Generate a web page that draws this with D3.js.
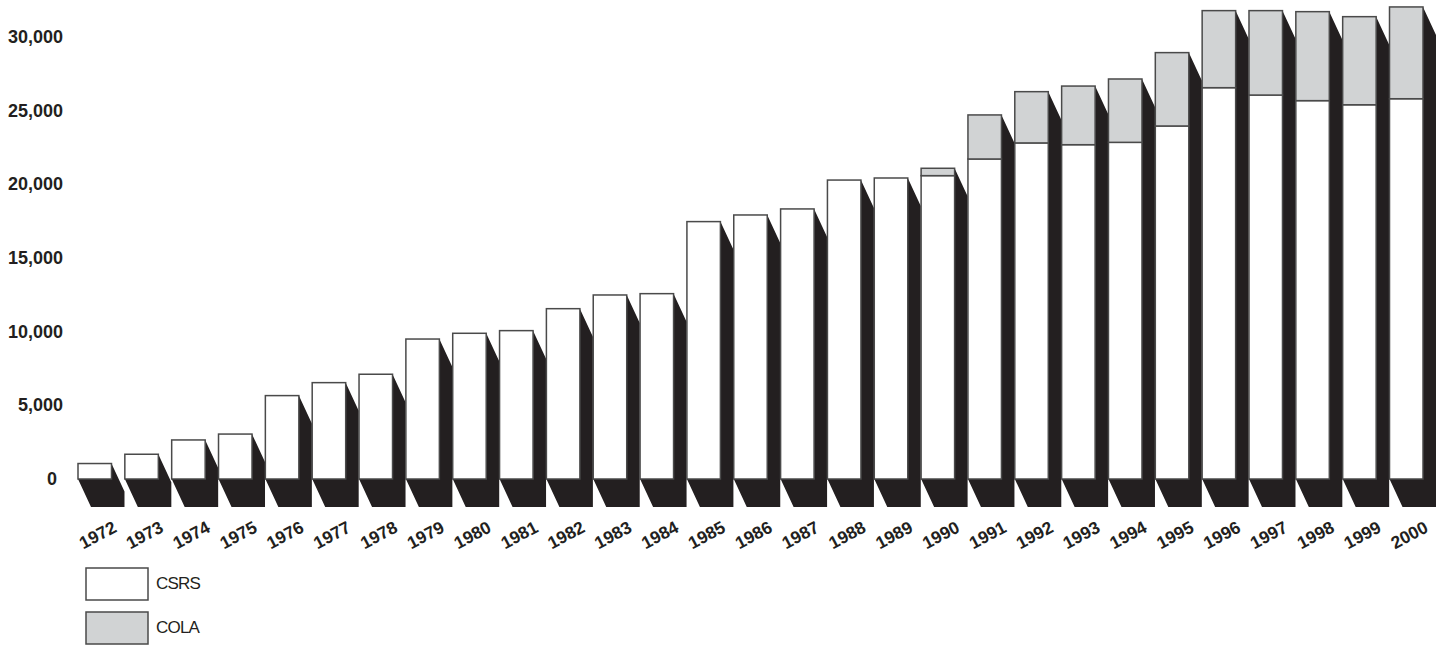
<!DOCTYPE html>
<html>
<head>
<meta charset="utf-8">
<script src="https://cdn.jsdelivr.net/npm/d3@7"></script>
<style>
  html, body { margin: 0; padding: 0; background: #fff; }
  svg { display: block; }
</style>
</head>
<body>
<svg id="chart" width="1441" height="645"></svg>
<script>
const years = ["1972","1973","1974","1975","1976","1977","1978","1979","1980","1981","1982","1983","1984","1985","1986","1987","1988","1989","1990","1991","1992","1993","1994","1995","1996","1997","1998","1999","2000"];
const csrs = [1050,1680,2650,3050,5660,6540,7110,9500,9890,10070,11560,12490,12580,17470,17920,18330,20290,20430,20590,21720,22810,22690,22850,23960,26560,26060,25680,25400,25810];
const cola = [0,0,0,0,0,0,0,0,0,0,0,0,0,0,0,0,0,0,500,2990,3480,3980,4300,4980,5230,5730,6040,5980,6230];
const yTicks = [0,5000,10000,15000,20000,25000,30000];
const seriesNames = ["CSRS","COLA"];
const seriesColors = ["#ffffff","#d1d3d4"];

const svg = d3.select("#chart");
const x = d3.scaleBand().domain(years).range([78, 1423]).paddingInner(0.285).paddingOuter(0);
const y = d3.scaleLinear().domain([0, 30000]).range([479, 37]);
const dx = 13, dy = 28;
const dark = "#231f20";
const strokeC = "#4a4a4a";

// y axis labels
svg.append("g").selectAll("text").data(yTicks).join("text")
  .attr("x", d => d === 0 ? 57 : 63).attr("y", d => y(d))
  .attr("text-anchor", "end").attr("dominant-baseline", "central")
  .attr("font-family", "Liberation Sans, Arial, sans-serif")
  .attr("font-weight", "bold").attr("font-size", 18).attr("fill", dark)
  .text(d => d3.format(",")(d));

const data = years.map((yr, i) => ({yr, c: csrs[i], k: cola[i], t: csrs[i] + cola[i]}));

const g = svg.append("g");
data.forEach(d => {
  const x0 = x(d.yr), x1 = x0 + x.bandwidth();
  const yb = y(0), yt = y(d.t);
  g.append("polygon")
    .attr("points", [[x0, yb], [x0 + dx, yb + dy], [x1 + dx, yb + dy], [x1 + dx, yt + dy], [x1, yt], [x1, yb]].map(p => p.join(",")).join(" "))
    .attr("fill", dark);
});
data.forEach(d => {
  const x0 = x(d.yr);
  g.append("rect").attr("x", x0).attr("width", x.bandwidth())
    .attr("y", y(d.c)).attr("height", y(0) - y(d.c))
    .attr("fill", seriesColors[0]).attr("stroke", strokeC).attr("stroke-width", 1.5);
  if (d.k > 0) {
    g.append("rect").attr("x", x0).attr("width", x.bandwidth())
      .attr("y", y(d.t)).attr("height", y(d.c) - y(d.t))
      .attr("fill", seriesColors[1]).attr("stroke", strokeC).attr("stroke-width", 1.5);
  }
});

// x labels
svg.append("g").selectAll("text").data(years).join("text")
  .attr("transform", d => `translate(${x(d) + x.bandwidth() / 2 + 3},535) rotate(-28)`)
  .attr("text-anchor", "middle").attr("dominant-baseline", "central")
  .attr("font-family", "Liberation Sans, Arial, sans-serif")
  .attr("font-weight", "bold").attr("font-size", 17.5).attr("fill", dark)
  .text(d => d);

// legend
const leg = svg.append("g");
seriesNames.forEach((n, i) => {
  const ly = 568 + i * 44;
  leg.append("rect").attr("x", 86).attr("y", ly).attr("width", 62).attr("height", 32)
    .attr("fill", seriesColors[i]).attr("stroke", strokeC).attr("stroke-width", 1.5);
  leg.append("text").attr("x", 156).attr("y", ly + 15)
    .attr("dominant-baseline", "central")
    .attr("font-family", "Liberation Sans, Arial, sans-serif")
    .attr("font-size", 17).attr("letter-spacing", -0.8).attr("fill", dark)
    .text(n);
});
</script>
</body>
</html>
